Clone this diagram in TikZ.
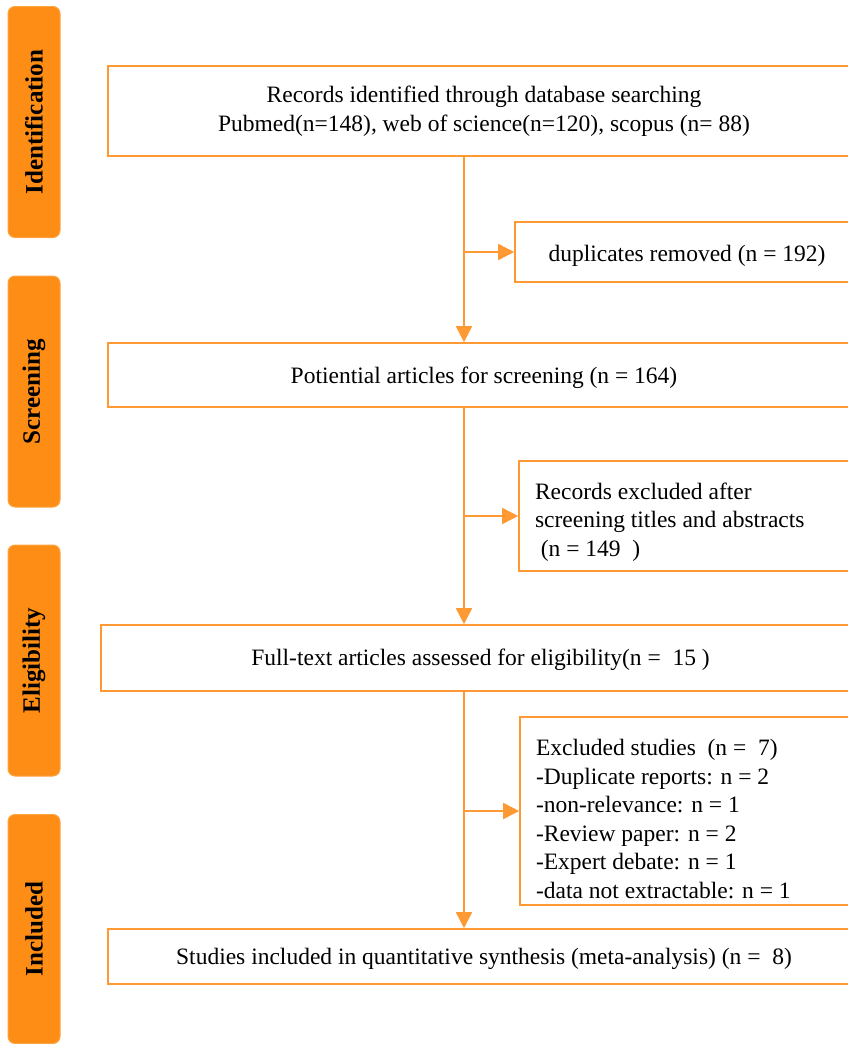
\documentclass[tikz,border=0pt]{standalone}
\usepackage{fontspec}
\setmainfont{Liberation Serif}
\usetikzlibrary{arrows.meta}
\definecolor{prorange}{RGB}{253,141,20}
\definecolor{prline}{RGB}{255,153,51}
\tikzset{
  box/.style={draw=prline,line width=1.6pt,fill=white,inner sep=0pt,
    font=\fontsize{23.5}{28.5}\selectfont,align=center},
  sidebox/.style={box,align=flush left,inner xsep=16pt,text width=#1},
  lower/.style={execute at begin node={\rule{0pt}{#1}}},
  phase/.style={fill=prorange,draw=prorange!80,line width=1pt,rounded corners=7pt,
    rotate=90,minimum width=231pt,minimum height=52pt,inner sep=0pt,
    font=\fontsize{25}{30}\selectfont\bfseries},
  flow/.style={draw=prline,line width=1.6pt,-{Triangle[length=16pt,width=16pt]}}
}
\begin{document}
\begin{tikzpicture}[x=1pt,y=-1pt,semithick]
\useasboundingbox (0,0) rectangle (848,1044);
% phases
\node[phase] (ident) at (34,122) {Identification};
\node[phase] (screen) at (34,391.5) {Screening};
\node[phase] (elig) at (34,660.5) {Eligibility};
\node[phase,minimum width=229pt] (incl) at (34,929) {Included};
% main boxes
\node[box,lower=26.5pt,minimum width=752pt,minimum height=90pt] (rec) at (484,111)
  {Records identified through database searching\\Pubmed(n=148), web of science(n=120), scopus (n= 88)};
\node[box,lower=24.5pt,minimum width=344pt,minimum height=60pt] (dup) at (687,252)
  {duplicates removed (n = 192)};
\node[box,lower=22.5pt,minimum width=752pt,minimum height=64pt] (pot) at (484,375)
  {Potiential articles for screening (n = 164)};
\node[sidebox=309pt,lower=28.5pt,minimum height=110pt] (exone) at (689.5,516)
  {Records excluded after\\screening titles and abstracts\\\ (n = 149\ \ )};
\node[box,lower=20.5pt,minimum width=759pt,minimum height=66pt] (full) at (480.5,658)
  {Full-text articles assessed for eligibility(n = \ 15 )};
\node[sidebox=308pt,lower=32.5pt,minimum height=188pt] (extwo) at (690,811)
  {Excluded studies \ (n = \ 7)\\-Duplicate reports: n = 2\\-non-relevance: n = 1\\
   -Review paper: n = 2\\-Expert debate: n = 1\\-data not extractable: n = 1};
\node[box,lower=20.5pt,minimum width=752pt,minimum height=55pt] (stud) at (484,956.5)
  {Studies included in quantitative synthesis (meta-analysis) (n = \ 8)};
% connectors
\coordinate (t) at (464,0);
\draw[flow] (rec.south -| t) -- (pot.north -| t);
\draw[flow] (dup.west -| t) -- (dup.west);
\draw[flow] (pot.south -| t) -- (full.north -| t);
\draw[flow] (exone.west -| t) -- (exone.west);
\draw[flow] (full.south -| t) -- (stud.north -| t);
\draw[flow] (extwo.west -| t) -- (extwo.west);
\end{tikzpicture}
\end{document}
